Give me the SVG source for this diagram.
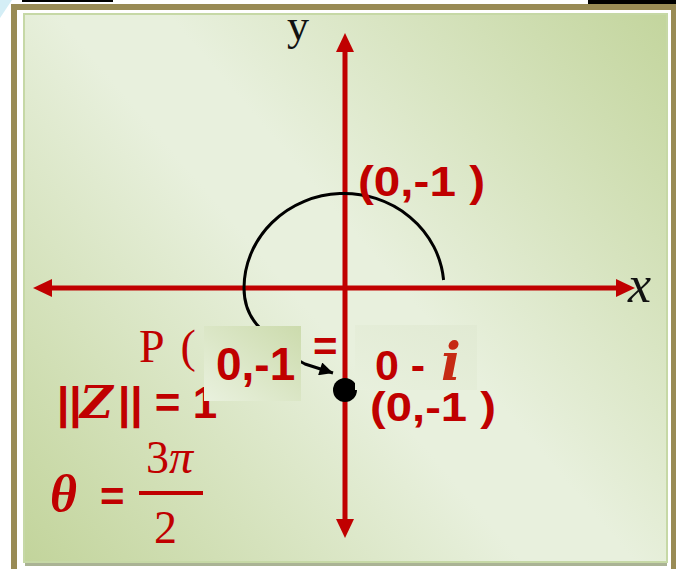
<svg xmlns="http://www.w3.org/2000/svg" width="676" height="569" viewBox="0 0 676 569">
  <defs>
    <linearGradient id="panelGrad" gradientUnits="userSpaceOnUse" x1="23" y1="562" x2="667" y2="13">
      <stop offset="0" stop-color="#c2d49b"/>
      <stop offset="0.45" stop-color="#e8f0dd"/>
      <stop offset="0.55" stop-color="#e8f0dd"/>
      <stop offset="1" stop-color="#c3d59d"/>
    </linearGradient>
    <linearGradient id="patch1Grad" x1="0" y1="1" x2="1" y2="0">
      <stop offset="0" stop-color="#e9f1de"/>
      <stop offset="1" stop-color="#ccdbad"/>
    </linearGradient>
    <linearGradient id="patch2Grad" x1="0" y1="1" x2="1" y2="0">
      <stop offset="0" stop-color="#e8f0dd"/>
      <stop offset="1" stop-color="#e1ead3"/>
    </linearGradient>
    <marker id="blackArrow" viewBox="0 0 10 10" refX="10" refY="5" markerWidth="5.5" markerHeight="4.5" orient="auto" markerUnits="strokeWidth">
      <path d="M0,0 L10,5 L0,10 Z" fill="#000"/>
    </marker>
    <style>
      .red { fill: #c00000; }
      .sansB { font-family: "Liberation Sans", Arial, sans-serif; font-weight: bold; }
      .serif { font-family: "Liberation Serif", "Times New Roman", serif; }
      .math { font-family: "DejaVu Serif", serif; font-style: italic; }
      .axis { stroke: #c00000; stroke-width: 5; fill: none; }
      .axisHead { fill: #c00000; }
    </style>
  </defs>

  <!-- page background -->
  <rect x="0" y="0" width="676" height="569" fill="#ffffff"/>
  <polygon points="0,0 12,0 0,18" fill="#d4eef6"/>
  <rect x="22" y="0" width="91" height="2" fill="#000"/>
  <rect x="588" y="0" width="88" height="4" fill="#000"/>

  <!-- frame -->
  <g id="frame">
    <rect x="14" y="7" width="660" height="600" fill="#ffffff" stroke="#998b55" stroke-width="6"/>
    <rect x="25" y="562" width="642" height="4" fill="#aab394"/>
    <rect x="24" y="14" width="643" height="548" fill="url(#panelGrad)" stroke="#c6d8a6" stroke-width="2"/>
  </g>

  <!-- axes -->
  <g id="axes">
    <line class="axis" x1="50" y1="288" x2="619" y2="288"/>
    <polygon class="axisHead" points="33,288 52,279 52,297"/>
    <polygon class="axisHead" points="635,288 616,279 616,297"/>
    <line class="axis" x1="345" y1="50" x2="345" y2="522"/>
    <polygon class="axisHead" points="345,33 336,52 354,52"/>
    <polygon class="axisHead" points="345,538 336,519 354,519"/>
  </g>

  <g id="label-y"><text class="serif" x="287" y="40" font-size="44" fill="#111">y</text></g>
  <g id="label-x"><text class="serif" x="628" y="302" font-size="52" font-style="italic" fill="#111">x</text></g>

  <!-- connectors: rotation arc -->
  <g id="connectors">
    <path d="M443.6,280 A100,95 0 0,0 244,288 C244,305 250,318 260,328 C275,345 290,357 305,364 L333,373" fill="none" stroke="#000" stroke-width="3" marker-end="url(#blackArrow)"/>
  </g>

  <g id="label-top">
    <text class="sansB red" x="358" y="196" font-size="42" textLength="127" lengthAdjust="spacingAndGlyphs">(0,-1 )</text>
  </g>

  <g id="label-bottom">
    <text class="sansB red" x="370" y="421" font-size="40" textLength="126" lengthAdjust="spacingAndGlyphs">(0,-1 )</text>
  </g>

  <g id="point">
    <circle cx="345" cy="390" r="12" fill="#000"/>
  </g>

  <g id="equation-p">
    <text class="serif red" x="139" y="362" font-size="46" word-spacing="6">P (</text>
    <text class="sansB red" x="313" y="361" font-size="42">=</text>
  </g>

  <g id="modulus">
    <text class="sansB red" y="418" font-size="44"><tspan x="57">||</tspan><tspan x="80" class="math" font-weight="bold" font-size="45">Z</tspan><tspan x="118">|| = 1</tspan></text>
  </g>

  <g id="patch-1">
    <rect x="204" y="326" width="97" height="75" fill="url(#patch1Grad)"/>
    <text class="sansB red" x="216" y="380" font-size="46">0,-1</text>
  </g>

  <g id="patch-2">
    <rect x="355" y="325" width="122" height="65" fill="url(#patch2Grad)"/>
    <text class="sansB red" x="375" y="380" font-size="43">0 -</text>
    <text class="math" x="441" y="380" font-size="52" font-weight="bold" fill="#c62a14">i</text>
  </g>

  <g id="angle">
    <text class="serif red" x="50" y="511" font-size="52" font-weight="bold" font-style="italic">θ</text>
    <text class="sansB red" x="100" y="511" font-size="42">=</text>
    <line x1="139" y1="493" x2="203" y2="493" stroke="#c00000" stroke-width="4"/>
    <text class="serif red" x="146" y="473" font-size="46">3<tspan font-style="italic" font-size="48">π</tspan></text>
    <text class="serif red" x="154" y="543" font-size="46">2</text>
  </g>
</svg>
